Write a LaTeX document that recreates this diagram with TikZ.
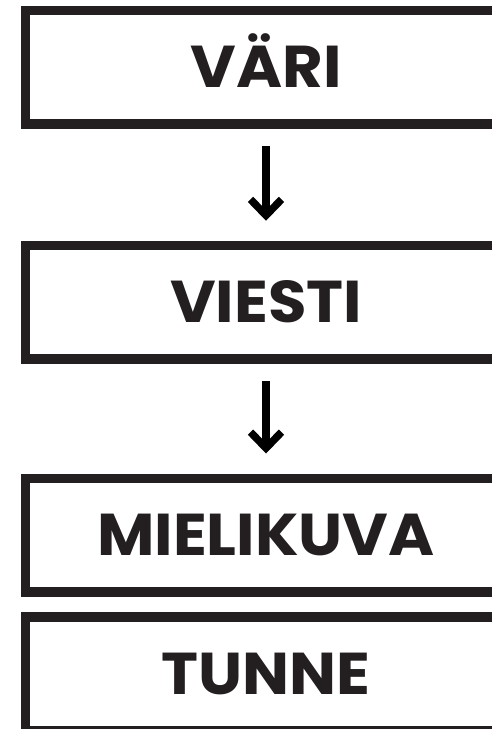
\documentclass[tikz,border=0pt]{standalone}
\usepackage{fontspec}
\setmainfont{Poppins}[FakeStretch=1.06]
\usetikzlibrary{arrows.meta}

\definecolor{ink}{HTML}{231F20}

\begin{document}
\begin{tikzpicture}[x=1pt,y=-1pt]

  \useasboundingbox (0,0) rectangle (492,729);
  \clip (0,0) rectangle (492,729);

  % node styles
  \tikzstyle{Box}=[
  draw=ink,
  line width=9.5pt,
  shape=rectangle,
  minimum width=481pt,
  minimum height=113.5pt,
  inner sep=0pt,
  font=\fontsize{59}{59}\selectfont\bfseries,
  text=ink,
  text height=41pt,
  text depth=0pt]

  \tikzstyle{Arrow}=[
  line width=7.5pt,
  -{Straight Barb[length=16pt,width=31pt,line cap=butt,line join=miter]},
  shorten <=17pt,
  shorten >=20pt]

  \node[Box] (V1) at (266, 67.25) {VÄRI};
  \node[Box] (V2) at (266,302.25) {VIESTI};
  \node[Box] (V3) at (266,535.00) {MIELIKUVA};
  \node[Box] (V4) at (266,673.75) {TUNNE};

  \draw[Arrow] (V1.south) -- (V2.north);
  \draw[Arrow] (V2.south) -- (V3.north);

\end{tikzpicture}
\end{document}
